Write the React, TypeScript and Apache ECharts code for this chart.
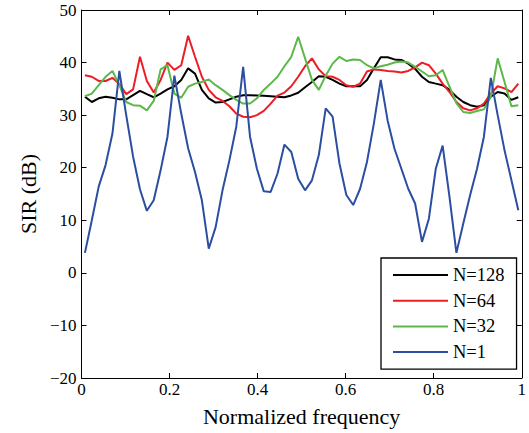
import React, { useEffect, useRef } from "react";
import * as echarts from "echarts";

// Sample frequencies: 64 bins centred at (k + 0.5) / 64
const FREQ: number[] = Array.from({ length: 64 }, (_, k) => (k + 0.5) / 64);

const N128: number[] = [
  33.5, 32.5, 33.2, 33.5, 33.3, 33.0, 33.0, 33.8, 34.6, 34.0, 33.4, 34.1, 34.9, 35.5, 36.7, 38.9,
  37.9, 34.8, 33.2, 32.4, 32.5, 33.0, 33.5, 33.8, 33.8, 33.75, 33.7, 33.6, 33.5, 33.4, 33.75, 34.25,
  35.3, 36.3, 37.4, 37.3, 36.7, 36.0, 35.5, 35.5, 35.5, 36.7, 38.9, 41.0, 41.0, 40.6, 40.5, 39.8,
  38.8, 37.3, 36.3, 36.0, 35.7, 34.8, 33.5, 32.5, 31.9, 31.6, 31.9, 33.5, 34.4, 34.1, 32.9, 33.4,
];

const N64: number[] = [
  37.6, 37.3, 36.5, 36.5, 37.1, 35.9, 34.0, 34.9, 41.1, 36.5, 34.3, 36.7, 40.0, 38.6, 39.5, 45.1,
  41.1, 37.3, 34.8, 33.4, 32.7, 31.7, 30.3, 29.7, 29.6, 30.0, 30.8, 32.2, 33.7, 34.3, 35.5, 37.3,
  39.3, 40.8, 38.7, 37.4, 37.3, 36.7, 35.7, 35.4, 36.0, 38.3, 38.7, 38.6, 38.4, 38.3, 38.1, 38.4,
  39.1, 40.0, 39.5, 37.9, 36.0, 34.4, 32.5, 31.3, 30.9, 31.3, 32.2, 34.1, 35.5, 35.1, 34.4, 36.0,
];

const N32: number[] = [
  33.6, 34.1, 35.7, 37.3, 38.4, 35.7, 32.5, 31.9, 31.8, 30.9, 32.7, 38.7, 39.5, 34.1, 33.3, 35.4,
  36.0, 36.3, 36.8, 35.7, 34.8, 33.8, 32.9, 32.2, 32.2, 33.2, 34.8, 36.0, 37.3, 39.3, 41.1, 44.9,
  40.8, 36.7, 34.8, 37.5, 39.8, 41.1, 40.3, 40.6, 40.5, 39.5, 38.9, 39.3, 39.6, 40.0, 40.2, 40.0,
  39.2, 38.3, 37.4, 37.6, 38.6, 35.4, 32.3, 30.6, 30.4, 30.8, 31.1, 33.5, 40.8, 36.3, 31.7, 31.9,
];

const N1: number[] = [
  3.8, 10.0, 16.4, 20.5, 26.5, 38.4, 30.0, 22.1, 15.9, 11.8, 13.8, 19.5, 25.9, 37.5, 30.3, 23.7,
  19.2, 13.8, 4.6, 8.7, 15.7, 21.4, 27.8, 39.2, 25.9, 19.8, 15.5, 15.4, 18.9, 24.4, 23.0, 17.9,
  15.7, 17.6, 22.4, 31.3, 29.7, 20.8, 14.8, 12.9, 16.0, 21.1, 28.4, 36.7, 29.0, 23.6, 19.8, 16.0,
  13.2, 5.9, 10.3, 19.8, 24.2, 14.4, 3.8, 9.4, 14.8, 19.8, 25.9, 37.1, 30.0, 23.3, 17.6, 11.9,
];

const SERIES_NAMES = ["N=128", "N=64", "N=32", "N=1"];
const SERIES_VALUES = [N128, N64, N32, N1];
const COLORS = ["#000000", "#ee1c25", "#5cb84a", "#2b4ea2"];

const FONT = "Liberation Serif";
const minus = (v: number) => String(v).replace("-", "\u2212");

export default function App() {
  const ref = useRef<HTMLDivElement>(null);
  useEffect(() => {
    if (!ref.current) return;
    const chart = echarts.init(ref.current, null, { renderer: "svg" });
    const axisCommon = {
      type: "value" as const,
      axisLine: { show: true, onZero: false, lineStyle: { color: "#000", width: 1 } },
      axisTick: { show: true, inside: true, length: 5, lineStyle: { color: "#000", width: 1 } },
      splitLine: { show: false },
    };
    chart.setOption({
      animation: false,
      grid: { left: 81.5, right: 4, top: 10, bottom: 55 },
      legend: {
        orient: "vertical",
        left: 381,
        top: 258,
        icon: "rect",
        itemWidth: 55,
        itemHeight: 2,
        itemGap: 5.7,
        padding: [7, 12, 7, 12],
        borderColor: "#000",
        borderWidth: 1.3,
        backgroundColor: "#fff",
        data: SERIES_NAMES,
        textStyle: { fontFamily: FONT, fontSize: 18.5, color: "#000", lineHeight: 20 },
      },
      xAxis: [
        {
          ...axisCommon,
          min: 0,
          max: 1,
          interval: 0.2,
          position: "bottom",
          axisLabel: { color: "#000", fontFamily: FONT, fontSize: 17, margin: 3, formatter: minus },
          name: "Normalized frequency",
          nameLocation: "middle",
          nameGap: 27,
          nameTextStyle: { color: "#000", fontFamily: FONT, fontSize: 22 },
        },
        {
          ...axisCommon,
          min: 0,
          max: 1,
          interval: 0.2,
          position: "top",
          axisLabel: { show: false },
        },
      ],
      yAxis: [
        {
          ...axisCommon,
          min: -20,
          max: 50,
          interval: 10,
          position: "left",
          axisLabel: { color: "#000", fontFamily: FONT, fontSize: 17, margin: 5, formatter: minus },
          name: "SIR (dB)",
          nameLocation: "middle",
          nameGap: 40,
          nameTextStyle: { color: "#000", fontFamily: FONT, fontSize: 22 },
        },
        {
          ...axisCommon,
          min: -20,
          max: 50,
          interval: 10,
          position: "right",
          axisLabel: { show: false },
        },
      ],
      series: SERIES_NAMES.map((name, i) => ({
        name,
        type: "line",
        xAxisIndex: 0,
        yAxisIndex: 0,
        symbol: "none",
        showSymbol: false,
        color: COLORS[i],
        lineStyle: { color: COLORS[i], width: 2 },
        data: FREQ.map((f, k) => [f, SERIES_VALUES[i][k]]),
      })),
    });
    return () => chart.dispose();
  }, []);
  return (
    <div
      ref={ref}
      style={{ position: "absolute", left: 0, top: 0, width: 529, height: 433, background: "#fff" }}
    />
  );
}
